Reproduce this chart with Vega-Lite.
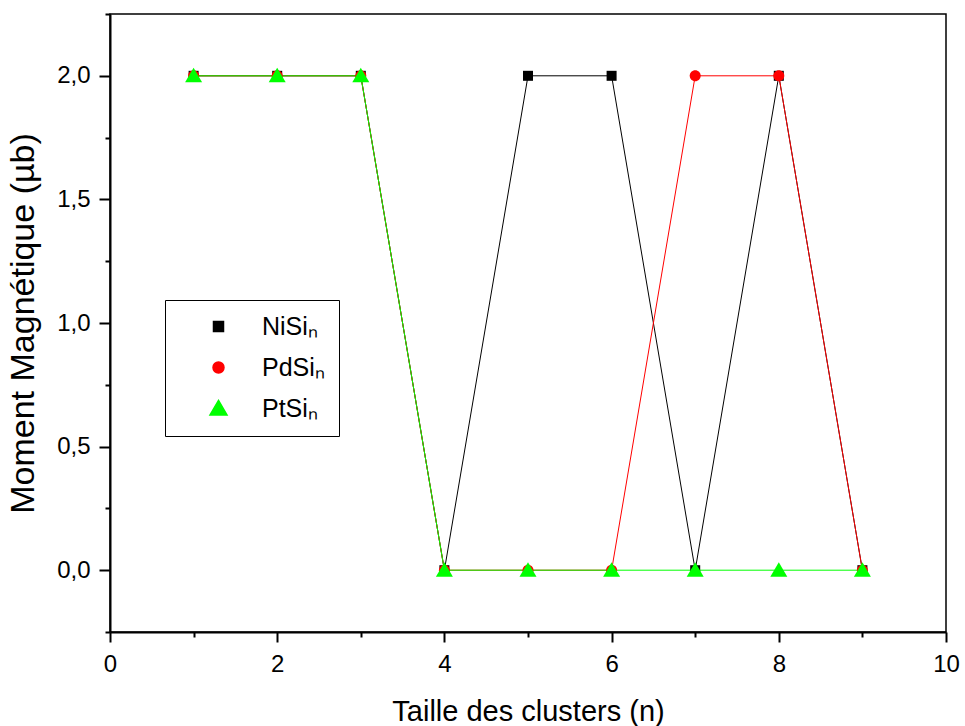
{
  "$schema": "https://vega.github.io/schema/vega-lite/v6.json",
  "width": 836,
  "height": 618,
  "autosize": "none",
  "padding": {"left": 110, "top": 14, "right": 19, "bottom": 94},
  "background": "white",
  "config": {
    "view": {"stroke": "black", "strokeWidth": 1.5},
    "font": "Liberation Sans",
    "axis": {
      "grid": false,
      "domainColor": "black",
      "domainWidth": 2,
      "tickColor": "black",
      "tickWidth": 2,
      "labelFont": "Liberation Sans",
      "labelFontSize": 24,
      "labelColor": "black",
      "labelFlush": false,
      "labelOverlap": false,
      "titleFont": "Liberation Sans",
      "titleFontWeight": "normal",
      "titleColor": "black"
    }
  },
  "data": {
    "values": [
      {"s": "NiSiₙ", "n": 1, "m": 2}, {"s": "NiSiₙ", "n": 2, "m": 2}, {"s": "NiSiₙ", "n": 3, "m": 2},
      {"s": "NiSiₙ", "n": 4, "m": 0}, {"s": "NiSiₙ", "n": 5, "m": 2}, {"s": "NiSiₙ", "n": 6, "m": 2},
      {"s": "NiSiₙ", "n": 7, "m": 0}, {"s": "NiSiₙ", "n": 8, "m": 2}, {"s": "NiSiₙ", "n": 9, "m": 0},
      {"s": "PdSiₙ", "n": 1, "m": 2}, {"s": "PdSiₙ", "n": 2, "m": 2}, {"s": "PdSiₙ", "n": 3, "m": 2},
      {"s": "PdSiₙ", "n": 4, "m": 0}, {"s": "PdSiₙ", "n": 5, "m": 0}, {"s": "PdSiₙ", "n": 6, "m": 0},
      {"s": "PdSiₙ", "n": 7, "m": 2}, {"s": "PdSiₙ", "n": 8, "m": 2}, {"s": "PdSiₙ", "n": 9, "m": 0},
      {"s": "PtSiₙ", "n": 1, "m": 2}, {"s": "PtSiₙ", "n": 2, "m": 2}, {"s": "PtSiₙ", "n": 3, "m": 2},
      {"s": "PtSiₙ", "n": 4, "m": 0}, {"s": "PtSiₙ", "n": 5, "m": 0}, {"s": "PtSiₙ", "n": 6, "m": 0},
      {"s": "PtSiₙ", "n": 7, "m": 0}, {"s": "PtSiₙ", "n": 8, "m": 0}, {"s": "PtSiₙ", "n": 9, "m": 0}
    ]
  },
  "encoding": {
    "x": {
      "field": "n", "type": "quantitative",
      "scale": {"domain": [0, 10], "nice": false, "zero": false},
      "axis": {
        "title": "Taille des clusters (n)",
        "titleFontSize": 29,
        "values": [0, 1, 2, 3, 4, 5, 6, 7, 8, 9, 10],
        "labelExpr": "datum.value % 2 === 0 ? datum.label : ''",
        "tickSize": {"condition": {"test": "datum.value % 2 === 1", "value": 5}, "value": 10},
        "labelPadding": 10,
        "titlePadding": 21
      }
    },
    "y": {
      "field": "m", "type": "quantitative",
      "scale": {"domain": [-0.25, 2.25], "nice": false, "zero": false},
      "axis": {
        "title": "Moment Magnétique (µb)",
        "titleFontSize": 34,
        "values": [-0.25, 0, 0.25, 0.5, 0.75, 1, 1.25, 1.5, 1.75, 2, 2.25],
        "labelExpr": "(datum.value * 2) % 1 === 0 ? replace(format(datum.value, '.1f'), '.', ',') : ''",
        "tickSize": {"condition": {"test": "(datum.value * 2) % 1 !== 0", "value": 5}, "value": 11},
        "labelPadding": 9,
        "titlePadding": 16
      }
    },
    "color": {
      "field": "s", "type": "nominal",
      "scale": {"domain": ["NiSiₙ", "PdSiₙ", "PtSiₙ"], "range": ["black", "red", "#00ff00"]},
      "legend": {
        "title": null,
        "orient": "none",
        "legendX": 55,
        "legendY": 286,
        "padding": 14,
        "strokeColor": "black",
        "fillColor": "white",
        "labelFont": "Liberation Sans",
        "labelFontSize": 25,
        "labelColor": "black",
        "symbolSize": 100,
        "symbolOffset": 27,
        "labelOffset": 31,
        "rowPadding": 15,
        "encode": {
          "symbols": {
            "update": {
              "shape": {"signal": "indexOf(datum.value, 'Ni') >= 0 ? 'M-7.5,-0.1H7.5V0.1H-7.5ZM-1,-1H1V1H-1Z' : indexOf(datum.value, 'Pd') >= 0 ? 'M-7.5,-0.1H7.5V0.1H-7.5ZM-1.1,0A1.1,1.1 0 1,1 1.1,0A1.1,1.1 0 1,1 -1.1,0Z' : 'M-7.5,-0.1H7.5V0.1H-7.5ZM0,-1.6L1.7,1.3L-1.7,1.3Z'"}
            },
            "shape": {"value": {"expr": "indexOf(datum.value, 'Ni') >= 0 ? 'M-7.5,-0.1H7.5V0.1H-7.5ZM-1,-1H1V1H-1Z' : indexOf(datum.value, 'Pd') >= 0 ? 'M-7.5,-0.1H7.5V0.1H-7.5ZM-1.1,0A1.1,1.1 0 1,1 1.1,0A1.1,1.1 0 1,1 -1.1,0Z' : 'M-7.5,-0.1H7.5V0.1H-7.5ZM0,-1.6L1.7,1.3L-1.7,1.3Z'"}}
          }
        }
      }
    }
  },
  "layer": [
    {
      "mark": {"type": "line", "strokeWidth": 1}
    },
    {
      "mark": {"type": "point", "filled": true, "opacity": 1, "size": 100},
      "encoding": {
        "order": {"field": "s", "sort": "ascending"},
        "shape": {
          "field": "s", "type": "nominal",
          "scale": {
            "domain": ["NiSiₙ", "PdSiₙ", "PtSiₙ"],
            "range": ["M-1,-1H1V1H-1Z", "M-1.1,0A1.1,1.1 0 1,1 1.1,0A1.1,1.1 0 1,1 -1.1,0Z", "M0,-1.6L1.7,1.3L-1.7,1.3Z"]
          },
          "legend": null
        }
      }
    }
  ]
}
